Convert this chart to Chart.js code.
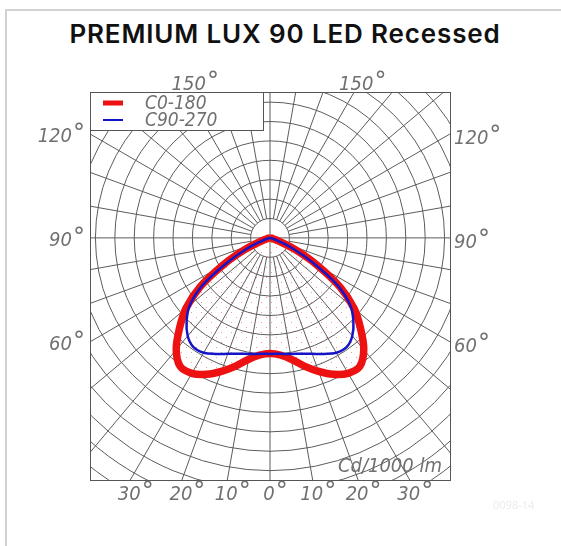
<!DOCTYPE html>
<html>
<head>
<meta charset="utf-8">
<script src="https://cdn.jsdelivr.net/npm/chart.js@4/dist/chart.umd.min.js"></script>
<style>
  html, body { margin: 0; padding: 0; background: #fff; }
  .card { position: absolute; left: 5px; top: 9px; width: 600px; height: 600px;
          border-top: 2px solid #d2d2d2; border-left: 2px solid #d2d2d2; }
  h1 { position: absolute; left: 0; top: 21px; width: 570px; margin: 0; text-align: center;
       font: 600 26px/26px Inter, "Noto Sans", sans-serif; letter-spacing: 0.85px;
       color: #111; white-space: nowrap; }
  .wrap { position: absolute; left: 0; top: 0; width: 561px; height: 546px; }
</style>
</head>
<body>
<div class="card"></div>
<h1>PREMIUM LUX 90 LED Recessed</h1>
<div class="wrap"><canvas id="polar"></canvas></div>
<script>
// gamma angles (deg from nadir) and intensities in cd/1000 lm
const angles = [0, 5, 10, 15, 20, 25, 30, 35, 40, 45, 50, 55, 60, 65, 70, 75, 80, 85, 90];
const c0_180 = [298, 303, 318, 342, 366, 388, 403, 404, 376, 330, 283, 220, 140, 72, 24, 8, 3, 1, 0];
const c90_270 = [299, 300, 304, 309, 318, 330, 342, 344, 330, 304, 270, 212, 128, 66, 22, 7, 2, 1, 0];

const seriesNames = ['C0-180', 'C90-270'];
const bottomTicks = [-30, -20, -10, 0, 10, 20, 30];
const sideTicks = [60, 90, 120];
const topTicks = [150];
const ringStep = 50;
const spokeStep = 10;
const xRange = [-464, 464];
const yRange = [-624, 376];

const rad = d => d * Math.PI / 180;

function polarPoints(vals) {
  const pts = [];
  for (let i = angles.length - 1; i >= 0; i--) {
    pts.push({ x: -vals[i] * Math.sin(rad(angles[i])), y: -vals[i] * Math.cos(rad(angles[i])) });
  }
  for (let i = 1; i < angles.length; i++) {
    pts.push({ x: vals[i] * Math.sin(rad(angles[i])), y: -vals[i] * Math.cos(rad(angles[i])) });
  }
  return pts;
}

// sparse stipple used inside the curves
const dots = document.createElement('canvas');
dots.width = 10; dots.height = 10;
const dctx = dots.getContext('2d');
dctx.fillStyle = 'rgba(230,70,70,0.55)';
dctx.fillRect(1, 2, 1, 1);
dctx.fillRect(6, 7, 1, 1);
const stipple = dctx.createPattern(dots, 'repeat');

const labelFont = 'italic 20px "Liberation Sans Narrow", "DejaVu Sans Condensed", sans-serif';
const degFont = '24px "DejaVu Sans", sans-serif';
const labelColor = '#707070';

// number plus a raised degree circle, anchored by its centre x
function angleLabel(ctx, txt, cx, base, align) {
  ctx.font = labelFont;
  const w = ctx.measureText(txt).width;
  ctx.font = degFont;
  const dw = ctx.measureText('°').width;
  let left = cx - (w + dw) / 2;
  if (align === 'right') left = cx - w - dw;
  if (align === 'left') left = cx;
  ctx.textAlign = 'left';
  ctx.font = labelFont;
  ctx.fillText(txt, left, base);
  ctx.font = degFont;
  ctx.fillText('°', left + w + 1, base - 1);
}

const polarGrid = {
  id: 'polarGrid',
  beforeDatasetsDraw(chart) {
    const { ctx, chartArea: a, scales: { x, y } } = chart;
    const px = (dx, dy) => [x.getPixelForValue(dx), y.getPixelForValue(dy)];
    const [cx, cy] = px(0, 0);
    const rMax = 2000;
    ctx.save();
    ctx.beginPath();
    ctx.rect(a.left, a.top, a.right - a.left, a.bottom - a.top);
    ctx.clip();
    ctx.strokeStyle = '#5c5c5c';
    ctx.lineWidth = 1;
    for (let v = ringStep; v < rMax; v += ringStep) {
      const r = x.getPixelForValue(v) - cx;
      ctx.beginPath();
      ctx.arc(cx, cy, r, 0, Math.PI * 2);
      ctx.stroke();
    }
    for (let g = 0; g < 360; g += spokeStep) {
      const r0 = g % 90 === 0 ? 0 : ringStep;
      const s = Math.sin(rad(g)), c = Math.cos(rad(g));
      const [x0, y0] = px(r0 * s, -r0 * c);
      const [x1, y1] = px(rMax * s, -rMax * c);
      ctx.beginPath();
      ctx.moveTo(x0, y0);
      ctx.lineTo(x1, y1);
      ctx.stroke();
    }
    ctx.restore();
    ctx.save();
    ctx.strokeStyle = '#555';
    ctx.lineWidth = 1;
    ctx.strokeRect(a.left + 0.5, a.top + 0.5, a.right - a.left, a.bottom - a.top);
    ctx.restore();
  },
  afterDatasetsDraw(chart) {
    const { ctx, chartArea: a, scales: { x, y } } = chart;
    ctx.save();
    // legend box
    ctx.fillStyle = '#fff';
    ctx.fillRect(a.left, a.top, 173, 38);
    ctx.strokeStyle = '#555';
    ctx.lineWidth = 1;
    ctx.strokeRect(a.left + 0.5, a.top + 0.5, 173, 38);
    chart.data.datasets.forEach((ds, i) => {
      const ly = a.top + 11 + i * 17;
      ctx.strokeStyle = ds.borderColor;
      ctx.lineWidth = i === 0 ? 5 : 2;
      ctx.beginPath();
      ctx.moveTo(a.left + 13, ly);
      ctx.lineTo(a.left + 33, ly);
      ctx.stroke();
      ctx.fillStyle = labelColor;
      ctx.font = 'italic 19px "Liberation Sans Narrow", "DejaVu Sans Condensed", sans-serif';
      ctx.textAlign = 'left';
      ctx.textBaseline = 'alphabetic';
      ctx.fillText(ds.label, a.left + 55, ly + 6);
    });

    ctx.fillStyle = labelColor;
    ctx.textBaseline = 'alphabetic';
    // bottom angle labels
    bottomTicks.forEach(g => {
      const xv = -yRange[0] * Math.tan(rad(g));
      angleLabel(ctx, String(Math.abs(g)), x.getPixelForValue(xv) + 5, a.bottom + 20, 'center');
    });
    // top labels
    topTicks.forEach(g => {
      const xv = yRange[1] * Math.tan(rad(180 - g));
      angleLabel(ctx, String(g), x.getPixelForValue(-xv) + 9, a.top - 2, 'center');
      angleLabel(ctx, String(g), x.getPixelForValue(xv) + 8, a.top - 2, 'center');
    });
    // side labels
    sideTicks.forEach(g => {
      const yv = -xRange[1] / Math.tan(rad(g));
      const py = y.getPixelForValue(yv);
      angleLabel(ctx, String(g), a.left - 6, py + 8, 'right');
      angleLabel(ctx, String(g), a.right + 4, py + 10, 'left');
    });
    ctx.font = labelFont;
    ctx.textAlign = 'right';
    ctx.fillText('Cd/1000 lm', a.right - 8, a.bottom - 8);

    ctx.font = '11px "Noto Sans", sans-serif';
    ctx.fillStyle = '#ececec';
    ctx.textAlign = 'left';
    ctx.fillText('0098-14', a.right + 43, a.bottom + 29);
    ctx.restore();
  }
};

new Chart(document.getElementById('polar').getContext('2d'), {
  type: 'scatter',
  data: {
    datasets: [
      {
        label: seriesNames[0],
        data: polarPoints(c0_180),
        showLine: true,
        borderColor: '#ee1111',
        borderWidth: 7.5,
        backgroundColor: stipple,
        fill: 'shape',
        pointRadius: 0,
        tension: 0.35,
        order: 2
      },
      {
        label: seriesNames[1],
        data: polarPoints(c90_270),
        showLine: true,
        borderColor: '#1515c8',
        borderWidth: 2.5,
        fill: false,
        pointRadius: 0,
        tension: 0.35,
        order: 1
      }
    ]
  },
  options: {
    responsive: true,
    maintainAspectRatio: false,
    animation: false,
    layout: { padding: { left: 90, right: 111, top: 92, bottom: 66 } },
    scales: {
      x: { type: 'linear', min: xRange[0], max: xRange[1], display: false },
      y: { type: 'linear', min: yRange[0], max: yRange[1], display: false }
    },
    plugins: {
      legend: { display: false },
      tooltip: { enabled: false }
    }
  },
  plugins: [polarGrid]
});
</script>
</body>
</html>
